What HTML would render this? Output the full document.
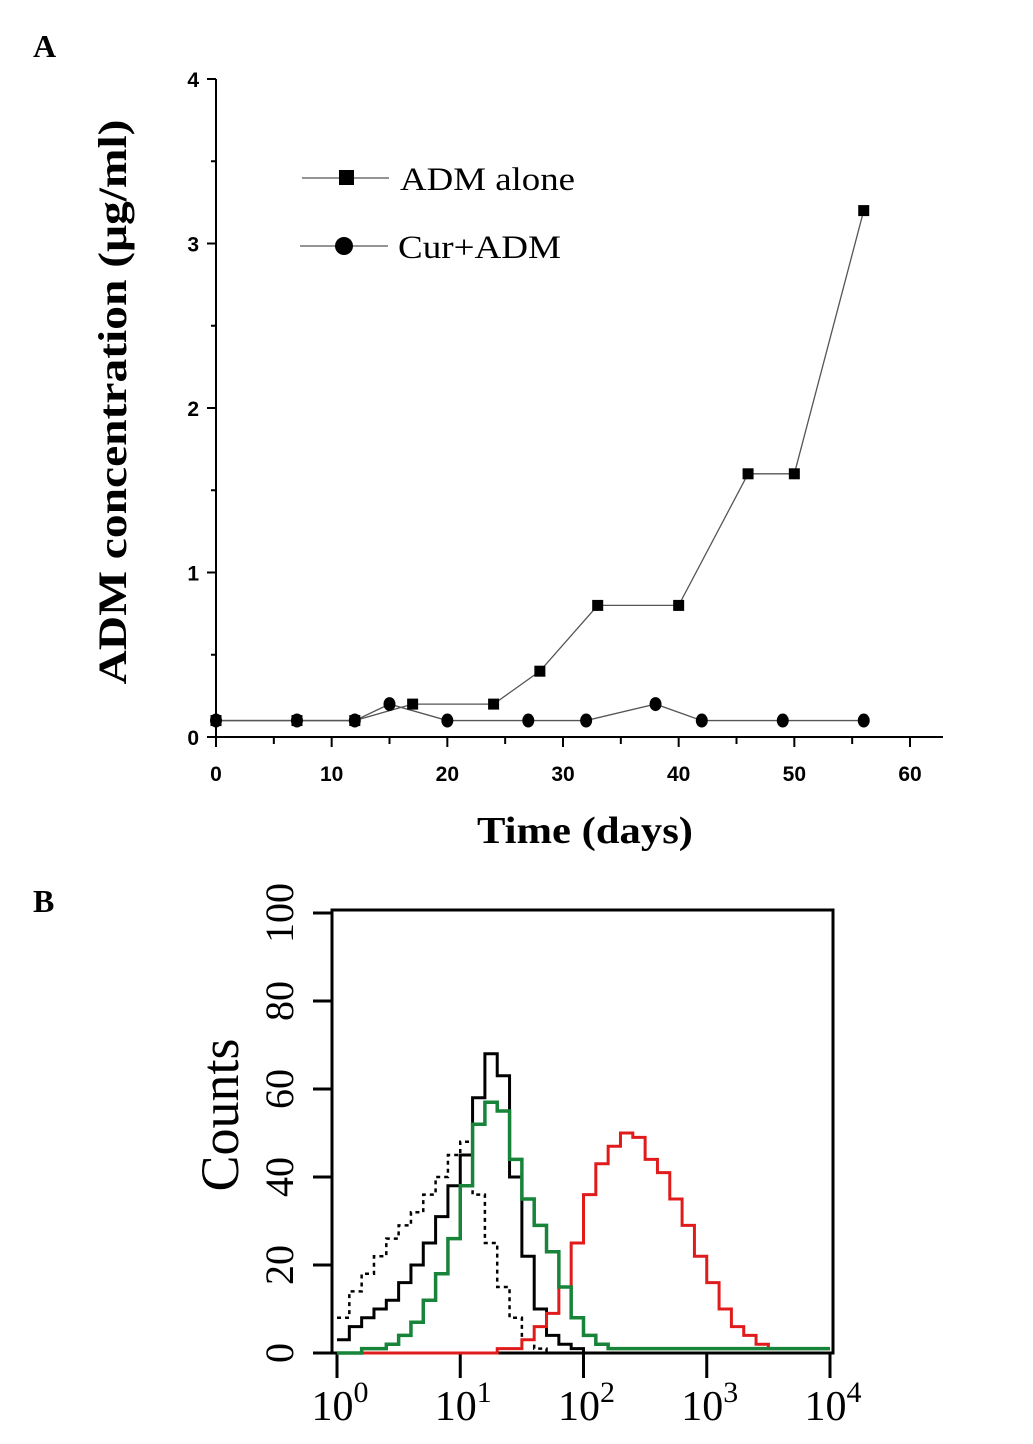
<!DOCTYPE html>
<html><head><meta charset="utf-8"><style>
html,body{margin:0;padding:0;background:#fff;}
svg{display:block;}
</style></head><body>
<svg id="fig" width="1033" height="1444" viewBox="0 0 1033 1444" xmlns="http://www.w3.org/2000/svg">
<text x="33" y="57" font-family="Liberation Serif, serif" font-weight="bold" font-size="32">A</text>
<text x="33" y="912" font-family="Liberation Serif, serif" font-weight="bold" font-size="32">B</text>
<g id="pa"></g>
<g id="pb"></g>
</svg>
<script>
// ---------- Panel A data ----------
const aDaysAlone = [0,7,12,17,24,28,33,40,46,50,56];
const aValsAlone = [0.1,0.1,0.1,0.2,0.2,0.4,0.8,0.8,1.6,1.6,3.2];
const aDaysCur = [0,7,12,15,20,27,32,38,42,49,56];
const aValsCur = [0.1,0.1,0.1,0.2,0.1,0.1,0.1,0.2,0.1,0.1,0.1];
const aXTicks = [0,10,20,30,40,50,60];
const aYTicks = [0,1,2,3,4];
// ---------- Panel B data (log10 fluorescence 0..4, step 0.1) ----------
const bLog = [0,0.1,0.2,0.3,0.4,0.5,0.6,0.7,0.8,0.9,1.0,1.1,1.2,1.3,1.4,1.5,1.6,1.7,1.8,1.9,2.0,2.1,2.2,2.3,2.4,2.5,2.6,2.7,2.8,2.9,3.0,3.1,3.2,3.3,3.4,3.5,3.6,3.7,3.8,3.9,4.0];
const bBlack = [3,6,8,10,12,16,20,25,31,38,45,58,68,63,40,22,10,4,2,1,0,0,0,0,0,0,0,0,0,0,0,0,0,0,0,0,0,0,0,0,0];
const bDotted = [8,14,18,22,26,29,32,36,40,45,48,36,25,15,8,3,1,0,0,0,0,0,0,0,0,0,0,0,0,0,0,0,0,0,0,0,0,0,0,0,0];
const bGreen = [0,0,1,1,2,4,7,12,18,26,38,52,57,55,44,35,29,23,15,8,4,2,1,1,1,1,1,1,1,1,1,1,1,1,1,1,1,1,1,1,1];
const bRed = [0,0,0,0,0,0,0,0,0,0,0,0,0,1,1,3,6,9,15,25,36,43,47,50,49,44,41,35,29,22,16,10,6,4,2,1,1,1,1,1,1];
const bYTicks = [0,20,40,60,80,100];
const bXTicks = [0,1,2,3,4];

const NS="http://www.w3.org/2000/svg";
function mk(parent,tag,attrs){const e=document.createElementNS(NS,tag);for(const k in attrs)e.setAttribute(k,attrs[k]);parent.appendChild(e);return e;}

// Panel A
const pa=document.getElementById('pa');
const ax=d=>216+d*(910-216)/60;
const ay=v=>737-v*(737-79)/4;
let e;
e=mk(pa,'line',{x1:216,y1:79,x2:216,y2:738,stroke:'#000','stroke-width':2});


e=mk(pa,'line',{x1:215,y1:737,x2:943,y2:737,stroke:'#000','stroke-width':2});


for(let v=0;v<=4;v+=0.5){mk(pa,'line',{x1:v%1===0?207:211,y1:ay(v),x2:216,y2:ay(v),stroke:'#000','stroke-width':2});}
aYTicks.forEach(v=>{e=mk(pa,'text',{x:199,y:ay(v)+8,'text-anchor':'end','font-family':'Liberation Sans, sans-serif','font-weight':'bold','font-size':21});e.textContent=v;

});
for(let d=0;d<=60;d+=5){mk(pa,'line',{x1:ax(d),y1:737,x2:ax(d),y2:d%10===0?747:744,stroke:'#000','stroke-width':2});}
aXTicks.forEach(d=>{e=mk(pa,'text',{x:ax(d),y:781,'text-anchor':'middle','font-family':'Liberation Sans, sans-serif','font-weight':'bold','font-size':21});e.textContent=d;

});
e=mk(pa,'polyline',{points:aDaysAlone.map((d,i)=>ax(d)+','+ay(aValsAlone[i])).join(' '),fill:'none',stroke:'#555','stroke-width':1.3});


e=mk(pa,'polyline',{points:aDaysCur.map((d,i)=>ax(d)+','+ay(aValsCur[i])).join(' '),fill:'none',stroke:'#555','stroke-width':1.3});


aDaysAlone.forEach((d,i)=>{e=mk(pa,'rect',{x:ax(d)-5.5,y:ay(aValsAlone[i])-5.5,width:11,height:11,fill:'#000'});

});
aDaysCur.forEach((d,i)=>{e=mk(pa,'ellipse',{cx:ax(d),cy:ay(aValsCur[i]),rx:6,ry:7,fill:'#000'});

});
// legend
mk(pa,'line',{x1:302,y1:178,x2:389,y2:178,stroke:'#555','stroke-width':1.3});
mk(pa,'rect',{x:339,y:170,width:15,height:15,fill:'#000'});
e=mk(pa,'text',{x:400,y:190,'font-family':'Liberation Serif, serif','font-size':33,textLength:175,lengthAdjust:'spacingAndGlyphs'});e.textContent='ADM alone';


mk(pa,'line',{x1:300,y1:246,x2:388,y2:246,stroke:'#555','stroke-width':1.3});
mk(pa,'ellipse',{cx:344,cy:246,rx:9,ry:9,fill:'#000'});
e=mk(pa,'text',{x:398,y:258,'font-family':'Liberation Serif, serif','font-size':33,textLength:163,lengthAdjust:'spacingAndGlyphs'});e.textContent='Cur+ADM';


e=mk(pa,'text',{x:0,y:0,transform:'translate(126,402) rotate(-90)','text-anchor':'middle','font-family':'Liberation Serif, serif','font-weight':'bold','font-size':40,textLength:565,lengthAdjust:'spacingAndGlyphs'});e.textContent='ADM concentration (μg/ml)';


e=mk(pa,'text',{x:585,y:843,'text-anchor':'middle','font-family':'Liberation Serif, serif','font-weight':'bold','font-size':38,textLength:216,lengthAdjust:'spacingAndGlyphs'});e.textContent='Time (days)';



// Panel B
const pb=document.getElementById('pb');
const bx=l=>337+l*(830-337)/4;
const by=c=>1353-c*(1353-913)/100;
e=mk(pb,'rect',{x:332,y:910,width:501,height:443,fill:'none',stroke:'#000','stroke-width':3});


bYTicks.forEach(c=>{mk(pb,'line',{x1:313,y1:by(c),x2:332,y2:by(c),stroke:'#000','stroke-width':3});
e=mk(pb,'text',{x:0,y:0,transform:`translate(${293},${by(c)}) rotate(-90)`,'text-anchor':'middle','font-family':'Liberation Serif, serif','font-size':40});e.textContent=c;

});
bXTicks.forEach(p=>{mk(pb,'line',{x1:bx(p),y1:1353,x2:bx(p),y2:1378,stroke:'#000','stroke-width':3});
e=mk(pb,'text',{x:bx(p)+3,y:1420,'text-anchor':'middle','font-family':'Liberation Serif, serif','font-size':42});
e.innerHTML='10<tspan dy="-18" font-size="30">'+p+'</tspan>';

});
e=mk(pb,'text',{x:0,y:0,transform:'translate(238,1115) rotate(-90)','text-anchor':'middle','font-family':'Liberation Serif, serif','font-size':54});e.textContent='Counts';


function stepPts(vals){let p=[];vals.forEach((v,i)=>{const x0=bx(bLog[i]),x1=bx(Math.min(4,bLog[i]+0.1));p.push(x0+','+by(v));p.push(x1+','+by(v));});return p.join(' ');}
e=mk(pb,'polyline',{points:stepPts(bDotted),fill:'none',stroke:'#000','stroke-width':2.5,'stroke-dasharray':'4,4'});


e=mk(pb,'polyline',{points:stepPts(bBlack),fill:'none',stroke:'#000','stroke-width':3});


e=mk(pb,'polyline',{points:stepPts(bRed),fill:'none',stroke:'#e01b1b','stroke-width':3});


e=mk(pb,'polyline',{points:stepPts(bGreen),fill:'none',stroke:'#17843a','stroke-width':3.5});


</script>
</body></html>
